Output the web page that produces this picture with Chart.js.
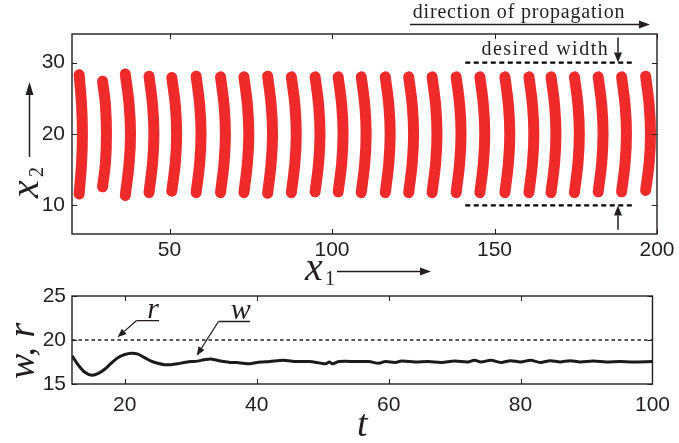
<!DOCTYPE html>
<html>
<head>
<meta charset="utf-8">
<script src="https://cdn.jsdelivr.net/npm/chart.js@4.4.1/dist/chart.umd.min.js"></script>
<style>
  body { margin: 0; background: #fff; }
  #wrap { position: relative; width: 679px; height: 443px; }
  canvas { position: absolute; left: 0; top: 0; }
</style>
</head>
<body>
<div id="wrap">
  <canvas id="stripes" width="679" height="443"></canvas>
  <canvas id="widthChart" width="679" height="443"></canvas>
</div>
<script>
// top panel: stripes (x1 at the bulge, at the quarter points and at the ends; top and bottom x2)
const stripeMid = [23.2, 30.6, 38.0, 45.2, 52.2, 59.7, 67.2, 74.4, 81.7, 89.0, 96.3, 103.4, 110.5,
  117.9, 125.1, 132.3, 139.7, 147.0, 154.7, 162.1, 168.9, 176.1, 183.4, 190.6, 198.0];
const stripeQuarter = [22.95, 30.3, 37.6, 44.8, 51.8, 59.3, 66.8, 74.0, 81.3, 88.6, 95.9, 103.0, 110.1,
  117.5, 124.7, 131.9, 139.3, 146.6, 154.3, 161.7, 168.5, 175.7, 183.0, 190.2, 197.6];
const stripeEnd = [22.2, 29.4, 36.4, 43.7, 50.7, 58.2, 65.7, 72.9, 80.2, 87.5, 94.8, 101.9, 109.0,
  116.4, 123.6, 130.8, 138.2, 145.5, 153.2, 160.6, 167.4, 174.6, 181.9, 189.1, 196.5];
const stripeTop = [28.3, 27.4, 28.4, 28.1, 27.9, 28.1, 28.0, 28.0, 28.1, 28.0, 28.0, 28.0, 28.0,
  28.0, 28.0, 28.0, 28.0, 28.0, 28.0, 28.0, 28.0, 28.0, 28.0, 28.0, 28.1];
const stripeBottom = [11.6, 12.6, 11.4, 11.8, 12.0, 11.8, 11.8, 11.8, 11.7, 11.8, 11.9, 11.9, 11.8,
  11.8, 11.8, 11.8, 11.8, 11.8, 11.8, 11.8, 11.8, 11.8, 11.9, 11.9, 12.1];
const stripeLevels = [24, 20, 16]; // upper quarter, centre, lower quarter
const x1Ticks = [50, 100, 150, 200];
const x2Ticks = [10, 20, 30];
const desiredX1 = [141, 193];
const desiredWidth = [10, 30];
const markerX1 = 188;

// bottom panel: width w(t) and reference r
const tValues = [12, 13, 14, 15, 16, 17, 18, 19, 20, 21, 22, 23, 24, 25, 26, 27, 28, 29, 30, 31, 32, 33,
  34, 35, 36, 37, 38, 39, 40, 41, 42, 44, 46, 48, 49.5, 50.5, 51, 51.5, 52.5, 55, 57, 58.5, 59.5, 61,
  62, 64, 66, 68, 70, 72, 73, 74, 75.5, 77, 78.5, 80, 81.5, 83, 84.5, 86, 87.5, 89, 91, 93, 95, 97, 100];
const wValues = [18.2, 17.1, 16.3, 16.0, 16.2, 16.7, 17.4, 18.0, 18.35, 18.5, 18.4, 18.0, 17.6, 17.35,
  17.2, 17.2, 17.3, 17.45, 17.55, 17.6, 17.75, 17.85, 17.7, 17.55, 17.45, 17.45, 17.35, 17.3, 17.45,
  17.5, 17.55, 17.7, 17.55, 17.55, 17.4, 17.3, 17.5, 17.3, 17.55, 17.55, 17.55, 17.35, 17.55, 17.45,
  17.6, 17.5, 17.55, 17.45, 17.6, 17.5, 17.7, 17.5, 17.7, 17.45, 17.65, 17.5, 17.7, 17.45, 17.65,
  17.5, 17.65, 17.5, 17.6, 17.5, 17.55, 17.5, 17.55];
const rValue = 20;
const tRange = [12, 100];
const tTicks = [20, 40, 60, 80, 100];
const wTicks = [15, 20, 25];

const ink = '#231f20';
const red = '#ee2a2a';
const mathFont = 'italic 40px "Liberation Serif"';
const subFont = '20px "Liberation Serif"';

Chart.defaults.font.family = '"Liberation Sans", Arial, sans-serif';
Chart.defaults.font.size = 21;
Chart.defaults.color = ink;
Chart.defaults.animation = false;

function arrow(ctx, x0, y0, x1, y1, len, half) {
  const a = Math.atan2(y1 - y0, x1 - x0);
  const bx = x1 - len * Math.cos(a), by = y1 - len * Math.sin(a);
  ctx.beginPath();
  ctx.moveTo(x0, y0);
  ctx.lineTo(bx, by);
  ctx.stroke();
  ctx.beginPath();
  ctx.moveTo(x1, y1);
  ctx.lineTo(bx + half * Math.sin(a), by - half * Math.cos(a));
  ctx.lineTo(bx - half * Math.sin(a), by + half * Math.cos(a));
  ctx.closePath();
  ctx.fill();
}

function frame(chart, xs, ys) {
  const ctx = chart.ctx, a = chart.chartArea;
  const sx = chart.scales.x, sy = chart.scales.y;
  ctx.save();
  ctx.strokeStyle = ink;
  ctx.lineWidth = 1.4;
  ctx.strokeRect(a.left, a.top, a.right - a.left, a.bottom - a.top);
  ctx.lineWidth = 1;
  ctx.beginPath();
  xs.forEach(v => {
    const p = Math.round(sx.getPixelForValue(v)) + 0.5;
    ctx.moveTo(p, a.bottom); ctx.lineTo(p, a.bottom - 5);
    ctx.moveTo(p, a.top); ctx.lineTo(p, a.top + 5);
  });
  ys.forEach(v => {
    const p = Math.round(sy.getPixelForValue(v)) + 0.5;
    ctx.moveTo(a.left, p); ctx.lineTo(a.left + 5, p);
    ctx.moveTo(a.right, p); ctx.lineTo(a.right - 5, p);
  });
  ctx.stroke();
  ctx.restore();
}

const stripeSets = stripeMid.map((m, i) => ({
  data: [
    { x: stripeEnd[i], y: stripeTop[i] },
    { x: stripeQuarter[i], y: stripeLevels[0] },
    { x: m, y: stripeLevels[1] },
    { x: stripeQuarter[i], y: stripeLevels[2] },
    { x: stripeEnd[i], y: stripeBottom[i] }
  ],
  showLine: true,
  borderColor: red,
  borderWidth: 11,
  borderCapStyle: 'round',
  borderJoinStyle: 'round',
  tension: 0.4,
  pointRadius: 0
}));
desiredWidth.forEach(v => stripeSets.push({
  data: desiredX1.map(x => ({ x, y: v })),
  showLine: true,
  borderColor: '#000',
  borderWidth: 2.2,
  borderDash: [5, 3.5],
  pointRadius: 0
}));

const topDecor = {
  id: 'topDecor',
  afterDraw(chart) {
    frame(chart, x1Ticks, x2Ticks);
    const ctx = chart.ctx;
    const sx = chart.scales.x, sy = chart.scales.y;
    ctx.save();
    ctx.fillStyle = ink;
    ctx.strokeStyle = ink;
    ctx.lineWidth = 1.5;

    // x1 label with arrow
    ctx.font = mathFont;
    ctx.fillText('x', 305, 280);
    ctx.font = subFont;
    ctx.fillText('1', 325, 285);
    arrow(ctx, 337, 271.5, 431, 271.5, 11, 4);

    // x2 label, rotated, with arrow
    ctx.save();
    ctx.translate(38, 198);
    ctx.rotate(-Math.PI / 2);
    ctx.font = mathFont;
    ctx.fillText('x', 0, 0);
    ctx.font = subFont;
    ctx.fillText('2', 21, 5);
    ctx.restore();
    arrow(ctx, 29.5, 157, 29.5, 82, 13, 4);

    // direction of propagation
    ctx.font = '20px "Liberation Serif"';
    ctx.letterSpacing = '0.8px';
    ctx.textAlign = 'center';
    ctx.fillText('direction of propagation', 519, 18);
    arrow(ctx, 410, 24.5, 650, 24.5, 11, 4);

    // desired width
    ctx.letterSpacing = '1.5px';
    ctx.textAlign = 'right';
    ctx.fillText('desired width', sx.getPixelForValue(185.3), sy.getPixelForValue(31));
    ctx.letterSpacing = '0px';
    const mx = sx.getPixelForValue(markerX1);
    arrow(ctx, mx, sy.getPixelForValue(33.5), mx, sy.getPixelForValue(desiredWidth[1]), 10, 4);
    arrow(ctx, mx, sy.getPixelForValue(6.6), mx, sy.getPixelForValue(desiredWidth[0]), 10, 4);
    ctx.restore();
  }
};

new Chart(document.getElementById('stripes'), {
  type: 'scatter',
  data: { datasets: stripeSets },
  options: {
    responsive: false,
    layout: { padding: { left: 0, top: 34, right: 22, bottom: 163 } },
    plugins: { legend: { display: false }, tooltip: { enabled: false } },
    scales: {
      x: {
        type: 'linear', min: 20, max: 200,
        afterBuildTicks: s => { s.ticks = x1Ticks.map(v => ({ value: v })); },
        afterFit: s => { s.height = 46; },
        grid: { display: false, drawTicks: false },
        border: { display: false },
        ticks: { padding: 4, maxRotation: 0 }
      },
      y: {
        type: 'linear', min: 6, max: 34,
        afterBuildTicks: s => { s.ticks = x2Ticks.map(v => ({ value: v })); },
        afterFit: s => { s.width = 72; },
        grid: { display: false, drawTicks: false },
        border: { display: false },
        ticks: { padding: 7 }
      }
    }
  },
  plugins: [topDecor]
});

const bottomDecor = {
  id: 'bottomDecor',
  afterDraw(chart) {
    frame(chart, tTicks, wTicks);
    const ctx = chart.ctx;
    const sx = chart.scales.x, sy = chart.scales.y;
    ctx.save();
    ctx.fillStyle = ink;
    ctx.strokeStyle = ink;
    ctx.lineWidth = 1.3;

    // axis labels
    ctx.font = 'italic 38px "Liberation Serif"';
    ctx.fillText('t', 357, 436);
    ctx.save();
    ctx.translate(34, 379);
    ctx.rotate(-Math.PI / 2);
    ctx.fillText('w, r', 0, 0);
    ctx.restore();

    // leader for r
    const px = (t, w) => [sx.getPixelForValue(t), sy.getPixelForValue(w)];
    let e = px(25.2, 22.2), k = px(21.75, 22.2), tip = px(18.9, 20.3);
    ctx.beginPath();
    ctx.moveTo(e[0], e[1]); ctx.lineTo(k[0], k[1]);
    ctx.stroke();
    arrow(ctx, k[0], k[1], tip[0], tip[1], 9, 3.5);
    ctx.font = 'italic 30px "Liberation Serif"';
    ctx.textAlign = 'center';
    ctx.fillText('r', sx.getPixelForValue(24.3), e[1] - 3);

    // leader for w
    e = px(39.0, 22.1); k = px(34.2, 22.1); tip = px(30.9, 18.2);
    ctx.beginPath();
    ctx.moveTo(e[0], e[1]); ctx.lineTo(k[0], k[1]);
    ctx.stroke();
    arrow(ctx, k[0], k[1], tip[0], tip[1], 9, 3.5);
    ctx.fillText('w', sx.getPixelForValue(37.6), e[1] - 3);
    ctx.restore();
  }
};

new Chart(document.getElementById('widthChart'), {
  type: 'scatter',
  data: {
    datasets: [
      {
        data: tRange.map(t => ({ x: t, y: rValue })),
        showLine: true,
        borderColor: ink,
        borderWidth: 1.5,
        borderDash: [3.5, 3],
        pointRadius: 0
      },
      {
        data: tValues.map((t, i) => ({ x: t, y: wValues[i] })),
        showLine: true,
        borderColor: '#1a1a1a',
        borderWidth: 3,
        tension: 0.3,
        pointRadius: 0
      }
    ]
  },
  options: {
    responsive: false,
    layout: { padding: { left: 0, top: 296, right: 22, bottom: 19 } },
    plugins: { legend: { display: false }, tooltip: { enabled: false } },
    scales: {
      x: {
        type: 'linear', min: tRange[0], max: tRange[1],
        afterBuildTicks: s => { s.ticks = tTicks.map(v => ({ value: v })); },
        afterFit: s => { s.height = 40; },
        grid: { display: false, drawTicks: false },
        border: { display: false },
        ticks: { padding: 9, maxRotation: 0 }
      },
      y: {
        type: 'linear', min: 15, max: 25,
        afterBuildTicks: s => { s.ticks = wTicks.map(v => ({ value: v })); },
        afterFit: s => { s.width = 72; },
        grid: { display: false, drawTicks: false },
        border: { display: false },
        ticks: { padding: 6 }
      }
    }
  },
  plugins: [bottomDecor]
});
</script>
</body>
</html>
